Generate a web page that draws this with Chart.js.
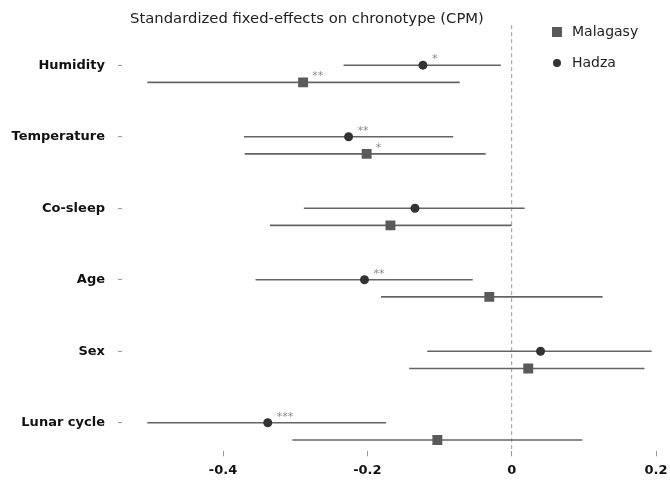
<!DOCTYPE html>
<html>
<head>
<meta charset="utf-8">
<script src="https://cdn.jsdelivr.net/npm/chart.js@4.4.1/dist/chart.umd.min.js"></script>
<style>
    html, body { margin: 0; padding: 0; background: #fff; overflow: hidden; }
    #wrap { position: relative; width: 670px; height: 486px; }
    #title { position: absolute; left: 0; top: 9px; width: 614px; text-align: center; font: 14.8px 'DejaVu Sans', sans-serif; color: #222; }
    .legend-item { position: absolute; left: 552px; font: 14px 'DejaVu Sans', sans-serif; color: #222; line-height: 16px; }
    .legend-item .sw { display: inline-block; vertical-align: middle; margin-right: 10px; }
</style>
</head>
<body>
<div id="wrap">
    <canvas id="forestChart" width="670" height="486"></canvas>
    <div id="title">Standardized fixed-effects on chronotype (CPM)</div>
    <div class="legend-item" style="top:23px"><span class="sw" style="width:10px;height:10px;background:#5a5a5a"></span>Malagasy</div>
    <div class="legend-item" style="top:54px"><span class="sw" style="width:8px;height:8px;border-radius:50%;background:#333;margin-left:1px;margin-right:11px"></span>Hadza</div>
</div>
<script>
// 데이터
const categories = ['Humidity', 'Temperature', 'Co-sleep', 'Age', 'Sex', 'Lunar cycle'];

const hadzaEst  = [-0.123, -0.226, -0.134, -0.204, 0.040, -0.338];
const hadzaLow  = [-0.233, -0.371, -0.288, -0.355, -0.117, -0.505];
const hadzaHigh = [-0.015, -0.081, 0.018, -0.054, 0.194, -0.174];
const hadzaStars = ['*', '**', '', '**', '', '***'];

const malagasyEst  = [-0.289, -0.201, -0.168, -0.031, 0.023, -0.103];
const malagasyLow  = [-0.505, -0.370, -0.335, -0.181, -0.142, -0.304];
const malagasyHigh = [-0.072, -0.036, 0.000, 0.126, 0.184, 0.098];
const malagasyStars = ['**', '*', '', '', '', ''];

const xTicks = [-0.4, -0.2, 0, 0.2];
const malagasyOffset = 0.24;

const whiskerColor = '#646464';

// 신뢰구간 선 (카테고리마다 하나씩)
function whiskers(low, high, offset) {
    return categories.map((c, i) => ({
        type: 'line',
        data: [{ x: low[i], y: i + offset }, { x: high[i], y: i + offset }],
        borderColor: whiskerColor,
        borderWidth: 1.6,
        pointRadius: 0,
        order: 2
    }));
}

const datasets = [
    {
        label: 'Malagasy',
        data: categories.map((c, i) => ({ x: malagasyEst[i], y: i + malagasyOffset })),
        pointStyle: 'rect',
        pointRadius: 7,
        backgroundColor: '#5a5a5a',
        borderColor: '#5a5a5a',
        borderWidth: 0,
        stars: malagasyStars,
        order: 0
    },
    {
        label: 'Hadza',
        data: categories.map((c, i) => ({ x: hadzaEst[i], y: i })),
        pointStyle: 'circle',
        pointRadius: 4.5,
        backgroundColor: '#333',
        borderColor: '#333',
        borderWidth: 0,
        stars: hadzaStars,
        order: 0
    },
    ...whiskers(hadzaLow, hadzaHigh, 0),
    ...whiskers(malagasyLow, malagasyHigh, malagasyOffset),
    {
        type: 'line',
        data: [{ x: 0, y: -0.56 }, { x: 0, y: 5.4 }],
        borderColor: '#9a9a9a',
        borderWidth: 1,
        borderDash: [4, 3],
        pointRadius: 0,
        clip: false,
        order: 3
    }
];

// 유의성 별표
const starPlugin = {
    id: 'stars',
    afterDatasetsDraw(chart) {
        const ctx = chart.ctx;
        const xs = chart.scales.x, ys = chart.scales.y;
        ctx.save();
        ctx.font = "11px 'DejaVu Sans', sans-serif";
        ctx.fillStyle = '#888';
        ctx.textBaseline = 'alphabetic';
        chart.data.datasets.forEach(ds => {
            if (!ds.stars) return;
            ds.stars.forEach((s, i) => {
                if (!s) return;
                const px = xs.getPixelForValue(ds.data[i].x);
                const py = ys.getPixelForValue(ds.data[i].y);
                ctx.fillText(s, px + 9, py - 3);
            });
        });
        ctx.restore();
    }
};

const ctx = document.getElementById('forestChart').getContext('2d');
new Chart(ctx, {
    type: 'scatter',
    data: { datasets },
    options: {
        responsive: false,
        animation: false,
        layout: { padding: { top: 28, right: 14, bottom: 2, left: 0 } },
        plugins: { legend: { display: false }, tooltip: { enabled: false } },
        scales: {
            x: {
                type: 'linear',
                min: -0.54,
                max: 0.2,
                afterBuildTicks: (scale) => { scale.ticks = xTicks.map(v => ({ value: v })); },
                // 마지막 라벨(0.2)은 오른쪽 끝에 걸치도록 여백 없애기
                afterFit: (scale) => { scale.paddingRight = 0; scale.paddingLeft = 0; },
                ticks: {
                    callback: (v) => v === 0 ? '0' : v.toFixed(1),
                    font: { family: 'DejaVu Sans', size: 13, weight: 'bold' },
                    color: '#111',
                    padding: 6,
                    maxRotation: 0
                },
                grid: { drawOnChartArea: false, drawTicks: true, tickLength: 5, color: '#999' },
                border: { display: false }
            },
            y: {
                type: 'linear',
                reverse: true,
                min: -0.52,
                max: 5.4,
                afterBuildTicks: (scale) => { scale.ticks = categories.map((c, i) => ({ value: i })); },
                afterFit: (scale) => { scale.width = 122; },
                ticks: {
                    callback: (v) => categories[v],
                    font: { family: 'DejaVu Sans', size: 13, weight: 'bold' },
                    color: '#111',
                    padding: 13
                },
                grid: { drawOnChartArea: false, drawTicks: true, tickLength: 4, color: '#999' },
                border: { display: false }
            }
        }
    },
    plugins: [starPlugin]
});
</script>
</body>
</html>
